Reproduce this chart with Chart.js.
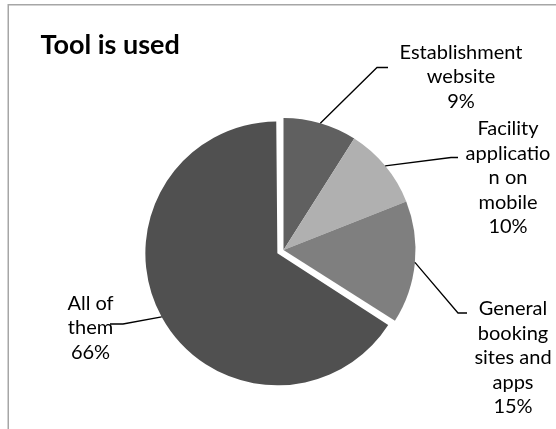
<!DOCTYPE html>
<html>
<head>
<meta charset="utf-8">
<script src="https://cdn.jsdelivr.net/npm/chart.js"></script>
<style>
  body { margin: 0; background: #fff; }
  #chart { display: block; }
</style>
</head>
<body>
<canvas id="chart" width="556" height="429"></canvas>
<script>
// values (percent of answers)
const categories = ["Establishment website", "Facility application on mobile", "General booking sites and apps", "All of them"];
const values = [9, 10, 15, 66];
// how the label text wraps in the original
const labelLines = [
  ["Establishment", "website"],
  ["Facility", "applicatio", "n on", "mobile"],
  ["General", "booking", "sites and", "apps"],
  ["All of", "them"]
];

const sliceColors = ["#606060", "#b0b0b0", "#7f7f7f", "#505050"];
const explode = [0, 0, 0, 28];   // only "All of them" is pulled out

// label placement: centre x, first baseline, leader elbow and end
const labelPos = [
  { x: 461, y: 58.5, elbow: [377, 67.5], end: [388, 67.5] },
  { x: 508, y: 135, elbow: [451, 157.5], end: [458, 157.5] },
  { x: 513, y: 315, elbow: [458, 313], end: [467, 313] },
  { x: 90.5, y: 309.5, elbow: [123, 324], end: [110, 324] }
];
const lineHeight = 24.5;
const labelFont = "20px Lato";

const pieExtras = {
  id: "pieExtras",
  beforeDraw(chart) {
    const ctx = chart.ctx;
    ctx.save();
    ctx.fillStyle = "#fff";
    ctx.fillRect(0, 0, chart.width, chart.height);
    // chart frame, cut off on the right and bottom
    ctx.strokeStyle = "#a6a6a6";
    ctx.lineWidth = 1.5;
    ctx.strokeRect(8.25, 4.75, 700, 600);
    ctx.fillStyle = "#000";
    ctx.font = "bold 27px Lato";
    ctx.textBaseline = "alphabetic";
    ctx.fillText("Tool is used", 40.5, 53.5);
    ctx.restore();
  },
  beforeDatasetsDraw(chart) {
    // chart.js grows an exploded slice by offset/4, keep it at the pie radius
    const meta = chart.getDatasetMeta(0);
    const r = meta.controller.outerRadius;
    meta.data.forEach((arc, i) => {
      const circ = arc.endAngle - arc.startAngle;
      const fix = 1 - Math.sin(Math.min(Math.PI, circ));
      arc.outerRadius = r - (explode[i] / 4) * fix;
    });
  },
  afterDatasetsDraw(chart) {
    const ctx = chart.ctx;
    const meta = chart.getDatasetMeta(0);
    const r = meta.controller.outerRadius;
    const total = values.reduce((a, b) => a + b, 0);
    ctx.save();
    meta.data.forEach((arc, i) => {
      const mid = (arc.startAngle + arc.endAngle) / 2;
      const d = explode[i] / 4 + r;
      const p = labelPos[i];
      ctx.strokeStyle = "#000";
      ctx.lineWidth = 1.3;
      ctx.beginPath();
      ctx.moveTo(arc.x + Math.cos(mid) * d, arc.y + Math.sin(mid) * d);
      ctx.lineTo(p.elbow[0], p.elbow[1]);
      ctx.lineTo(p.end[0], p.end[1]);
      ctx.stroke();

      const lines = labelLines[i].concat([Math.round(values[i] / total * 100) + "%"]);
      ctx.fillStyle = "#000";
      ctx.font = labelFont;
      ctx.textAlign = "center";
      ctx.textBaseline = "alphabetic";
      lines.forEach((t, k) => ctx.fillText(t, p.x, p.y + k * lineHeight));
    });
    ctx.restore();
  }
};

new Chart(document.getElementById("chart"), {
  type: "pie",
  data: {
    labels: categories,
    datasets: [{
      data: values,
      backgroundColor: sliceColors,
      borderWidth: 0,
      offset: explode,
      radius: 132
    }]
  },
  options: {
    responsive: false,
    animation: false,
    layout: { padding: { left: 41, right: 30, top: 111, bottom: 40 } },
    plugins: {
      legend: { display: false },
      title: { display: false },
      tooltip: { enabled: false }
    }
  },
  plugins: [pieExtras]
});
</script>
</body>
</html>
